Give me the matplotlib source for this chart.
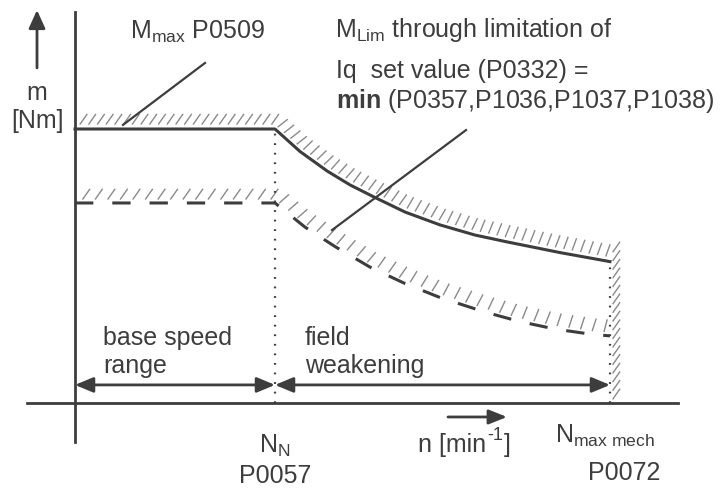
import matplotlib
matplotlib.use("Agg")
import matplotlib.pyplot as plt
import matplotlib.patheffects as pe
import numpy as np

plt.rcParams['font.family'] = ['Liberation Sans', 'DejaVu Sans']
plt.rcParams['mathtext.fontset'] = 'custom'
plt.rcParams['mathtext.rm'] = 'Liberation Sans'
plt.rcParams['mathtext.it'] = 'Liberation Sans:italic'
plt.rcParams['mathtext.bf'] = 'Liberation Sans:bold'

# speed in units of rated speed N_N, torque in units of M_max
n_rated = 1.0
n_max_mech = 2.675

# M_max curve (solid)
n_mmax = [0.0, 1.0, 1.125, 1.26, 1.375, 1.5, 1.65, 1.825, 2.0, 2.16, 2.425, 2.675]
m_mmax = [1.0, 1.0, 0.918, 0.847, 0.796, 0.750, 0.697, 0.650, 0.613, 0.588, 0.549, 0.516]

# M_Lim curve (dashed)
n_mlim = [0.0, 1.0, 1.15, 1.30, 1.475, 1.65, 1.825, 2.05, 2.225, 2.40, 2.59, 2.675]
m_mlim = [0.730, 0.730, 0.642, 0.571, 0.496, 0.436, 0.385, 0.332, 0.297, 0.270, 0.250, 0.245]

dark = '#3d3d3d'
hatch = '#8a8a8a'
fs = 18

fig = plt.figure(figsize=(7.24, 4.88), dpi=100)
ax = fig.add_axes([0, 0, 1, 1])
ax.set_xlim(-0.375, 3.245)
ax.set_ylim(-0.3102, 1.4708)
ax.axis('off')

# pixel -> data step sizes
px_n = 3.62 / 724
px_m = 1.781 / 488

# axes
ax.plot([0, 0], [-0.142, 1.427], color=dark, lw=2)
ax.plot([-0.24, 3.015], [0, 0], color=dark, lw=2)
ax.annotate('', xy=(-0.19, 1.434), xytext=(-0.19, 1.223),
            arrowprops=dict(arrowstyle='-|>,head_length=0.55,head_width=0.25',
                            color=dark, lw=2, mutation_scale=20,
                            shrinkA=0, shrinkB=0))


def hatched(n, m, off, spacing, angle, length):
    n = np.asarray(n)
    m = np.asarray(m) + off * px_m
    ax.plot(n, m, color=hatch, lw=1,
            path_effects=[pe.TickedStroke(spacing=spacing, angle=angle, length=length)])


# hatching above M_max
k = n_mmax.index(n_rated)
hatched(np.array(n_mmax[:k + 1]) + 1 * px_n, m_mmax[:k + 1], 5, 6, 55, 1.4)
hatched(n_mmax[k:], m_mmax[k:], 5, 6, 80, 1.4)
hatched([n_max_mech + 3 * px_n] * 2, [m_mmax[-1] + 14 * px_m, 0], 0, 6, 145, 1.4)

# hatching above M_Lim
j = n_mlim.index(n_rated)
hatched(np.array(n_mlim[:j + 1]) + 2 * px_n, m_mlim[:j + 1], 4, 8.5, 55, 1.0)
hatched(n_mlim[j:], m_mlim[j:], 4, 8.5, 80, 1.0)

# curves
ax.plot(n_mmax, m_mmax, color=dark, lw=2.2, solid_joinstyle='round')
ax.plot(n_mlim, m_mlim, color=dark, lw=2.2, dashes=(6, 6.2))

# dotted verticals
ax.plot([n_rated, n_rated], [0, m_mmax[k] - 4 * px_m], color=dark, lw=1.6,
        linestyle=(0, (0.8, 3.5)))
ax.plot([n_max_mech, n_max_mech], [0, m_mmax[-1]], color=dark, lw=1.6,
        linestyle=(0, (0.8, 3.5)))

# range arrows
for a, b in [(0, n_rated), (n_rated, n_max_mech)]:
    ax.annotate('', xy=(b, 0.066), xytext=(a, 0.066),
                arrowprops=dict(arrowstyle='<|-|>,head_length=0.55,head_width=0.23',
                                color=dark, lw=2, mutation_scale=20,
                                shrinkA=0, shrinkB=0))

# n arrow
ax.annotate('', xy=(2.16, -0.051), xytext=(1.865, -0.051),
            arrowprops=dict(arrowstyle='-|>,head_length=0.55,head_width=0.22',
                            color=dark, lw=2, mutation_scale=20,
                            shrinkA=0, shrinkB=0))

# leader lines
ax.plot([0.24, 0.65], [1.015, 1.241], color=dark, lw=1.6)
ax.plot([1.285, 1.955], [0.631, 0.996], color=dark, lw=1.6)

# labels
kw = dict(color=dark, fontsize=fs, va='baseline')
ax.text(0.275, 1.328, r'M$_{\mathrm{max}}$ P0509', ha='left', **kw)
ax.text(1.30, 1.336, r'M$_{\mathrm{Lim}}$ through limitation of', ha='left', **kw)
ax.text(1.305, 1.186, 'Iq  set value (P0332) =', ha='left', **kw)
ax.text(1.305, 1.077, r'$\mathbf{min}$ (P0357,P1036,P1037,P1038)', ha='left', **kw)
ax.text(-0.19, 1.106, 'm', ha='center', **kw)
ax.text(-0.19, 1.004, '[Nm]', ha='center', **kw)
ax.text(0.14, 0.212, 'base speed', ha='left', **kw)
ax.text(0.14, 0.109, 'range', ha='left', **kw)
ax.text(1.15, 0.212, 'field', ha='left', **kw)
ax.text(1.15, 0.109, 'weakening', ha='left', **kw)
ax.text(n_rated, -0.182, r'N$_{\mathrm{N}}$', ha='center', **kw)
ax.text(n_rated, -0.292, 'P0057', ha='center', **kw)

t1 = ax.text(1.715, -0.179, 'n [min', ha='left', **kw)
t2 = ax.annotate('-1', xy=(1, 0.55), xycoords=t1, xytext=(1, 0), textcoords='offset points',
                 color=dark, fontsize=13, va='bottom', ha='left')
ax.annotate(']', xy=(1, 0), xycoords=(t2, t1), xytext=(0.5, 0), textcoords='offset points',
            color=dark, fontsize=fs, va='bottom', ha='left')

ax.text(2.40, -0.146, r'N$_{\mathrm{max\ mech}}$', ha='left', **kw)
ax.text(2.745, -0.281, 'P0072', ha='center', **kw)

fig.savefig('out.png', dpi=100)
